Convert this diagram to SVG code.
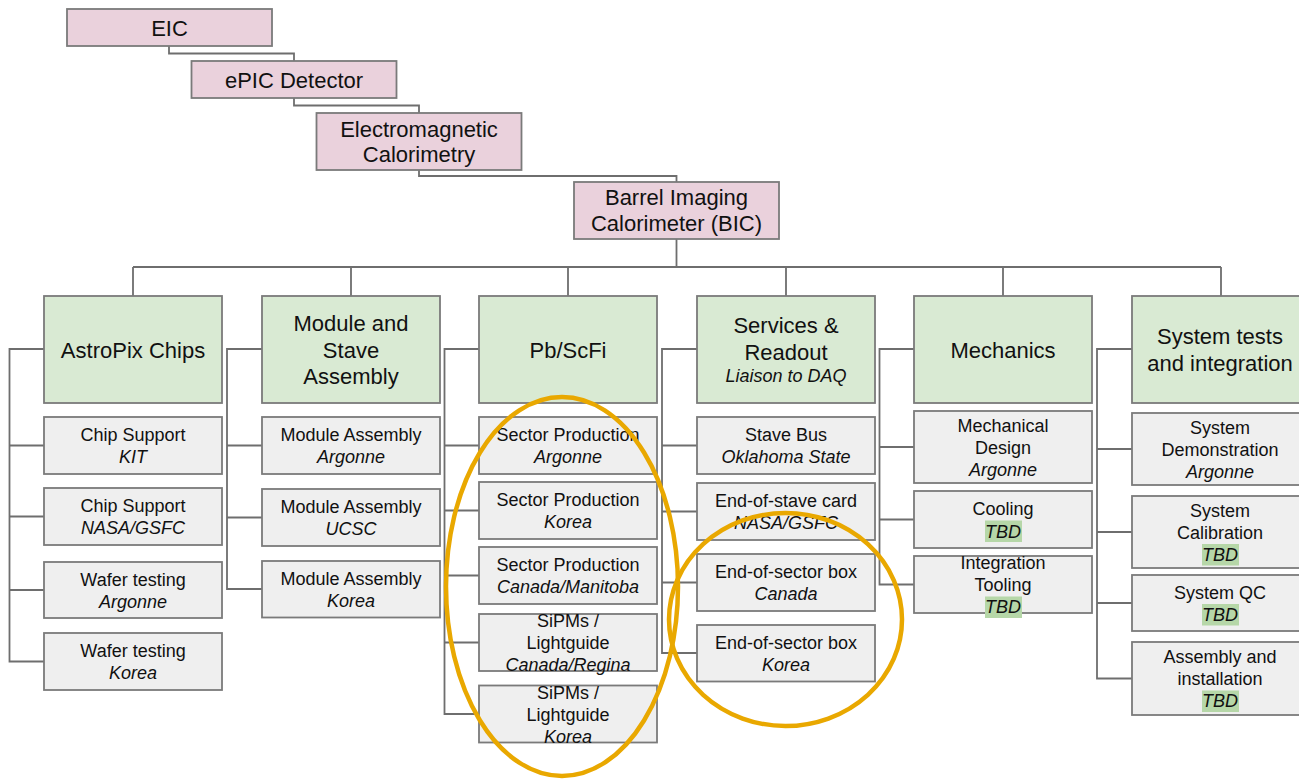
<svg xmlns="http://www.w3.org/2000/svg" width="1299" height="779" viewBox="0 0 1299 779">
<style>
text{font-family:"Liberation Sans",Arial,sans-serif;fill:#111;text-anchor:middle}
.pk{fill:#EAD1DC;stroke:#7a7a7a;stroke-width:1.8}
.gr{fill:#D9EAD3;stroke:#7a7a7a;stroke-width:1.8}
.sb{fill:#EFEFEF;stroke:#7a7a7a;stroke-width:1.8}
.t22{font-size:22px}
.t18{font-size:18px}
.i{font-style:italic}
.hl{fill:#B6D7A8}
.cn{fill:none;stroke:#6e6e6e;stroke-width:1.8}
.ov{fill:none;stroke:#E9A800;stroke-width:4.5}
</style>
<rect width="1299" height="779" fill="#fff"/>
<g id="connectors">
<path class="cn" d="M169,46V53.5H294V61M294,98V105.5H419V113M419,170V176H676.5V182M676.5,239V267M133,267H1221M133,267V296M351,267V296M568,267V296M786,267V296M1003,267V296M1221,267V296"/>
<path class="cn" d="M44,349H9.5V661.5H44M9.5,445.5H44M9.5,516.5H44M9.5,590H44"/>
<path class="cn" d="M262,349H227V589H262M227,445.5H262M227,517.5H262"/>
<path class="cn" d="M479,349H444.5V714H479M444.5,445.5H479M444.5,510.5H479M444.5,575.5H479M444.5,642.5H479"/>
<path class="cn" d="M697,349H662V653H697M662,445.5H697M662,511.5H697M662,582.5H697"/>
<path class="cn" d="M914,349H879.5V584.5H914M879.5,447H914M879.5,519.5H914"/>
<path class="cn" d="M1132,349H1097V678.5H1132M1097,449H1132M1097,532H1132M1097,603H1132"/>
</g>
<g id="eic"><rect class="pk" x="67" y="9" width="205" height="37"/><text class="t22" x="169.5" y="35.5">EIC</text></g>
<g id="epic"><rect class="pk" x="191.5" y="61" width="205" height="37"/><text class="t22" x="294" y="87.5">ePIC Detector</text></g>
<g id="emcal"><rect class="pk" x="316.5" y="113" width="205" height="57"/><text class="t22" x="419" y="136.5">Electromagnetic</text><text class="t22" x="419" y="162">Calorimetry</text></g>
<g id="bic"><rect class="pk" x="574" y="182" width="205" height="57"/><text class="t22" x="676.5" y="205">Barrel Imaging</text><text class="t22" x="676.5" y="231">Calorimeter (BIC)</text></g>

<g id="astropix"><rect class="gr" x="44" y="296" width="178" height="107"/><text class="t22" x="133" y="357.5">AstroPix Chips</text></g>
<g id="module-stave"><rect class="gr" x="262" y="296" width="178" height="107"/><text class="t22" x="351" y="331">Module and</text><text class="t22" x="351" y="357.5">Stave</text><text class="t22" x="351" y="384">Assembly</text></g>
<g id="pbscfi"><rect class="gr" x="479" y="296" width="178" height="107"/><text class="t22" x="568" y="357.5">Pb/ScFi</text></g>
<g id="services"><rect class="gr" x="697" y="296" width="178" height="107"/><text class="t22" x="786" y="333">Services &amp;</text><text class="t22" x="786" y="359.5">Readout</text><text class="t18 i" x="786" y="382">Liaison to DAQ</text></g>
<g id="mechanics"><rect class="gr" x="914" y="296" width="178" height="107"/><text class="t22" x="1003" y="357.5">Mechanics</text></g>
<g id="system-tests"><rect class="gr" x="1132" y="296" width="178" height="107"/><text class="t22" x="1220" y="344">System tests</text><text class="t22" x="1220" y="370.5">and integration</text></g>

<g id="chip-kit"><rect class="sb" x="44" y="417" width="178" height="57"/><text class="t18" x="133" y="441">Chip Support</text><text class="t18 i" x="133" y="463">KIT</text></g>
<g id="chip-nasa"><rect class="sb" x="44" y="488" width="178" height="57"/><text class="t18" x="133" y="512">Chip Support</text><text class="t18 i" x="133" y="534">NASA/GSFC</text></g>
<g id="wafer-argonne"><rect class="sb" x="44" y="562" width="178" height="56"/><text class="t18" x="133" y="585.5">Wafer testing</text><text class="t18 i" x="133" y="607.5">Argonne</text></g>
<g id="wafer-korea"><rect class="sb" x="44" y="633" width="178" height="57"/><text class="t18" x="133" y="657">Wafer testing</text><text class="t18 i" x="133" y="679">Korea</text></g>

<g id="mod-argonne"><rect class="sb" x="262" y="417" width="178" height="57"/><text class="t18" x="351" y="441">Module Assembly</text><text class="t18 i" x="351" y="463">Argonne</text></g>
<g id="mod-ucsc"><rect class="sb" x="262" y="489" width="178" height="57"/><text class="t18" x="351" y="513">Module Assembly</text><text class="t18 i" x="351" y="535">UCSC</text></g>
<g id="mod-korea"><rect class="sb" x="262" y="561" width="178" height="56.5"/><text class="t18" x="351" y="584.5">Module Assembly</text><text class="t18 i" x="351" y="606.5">Korea</text></g>

<g id="sector-argonne"><rect class="sb" x="479" y="417" width="178" height="57"/><text class="t18" x="568" y="441">Sector Production</text><text class="t18 i" x="568" y="463">Argonne</text></g>
<g id="sector-korea"><rect class="sb" x="479" y="482" width="178" height="57"/><text class="t18" x="568" y="506">Sector Production</text><text class="t18 i" x="568" y="528">Korea</text></g>
<g id="sector-manitoba"><rect class="sb" x="479" y="547" width="178" height="57"/><text class="t18" x="568" y="571">Sector Production</text><text class="t18 i" x="568" y="593">Canada/Manitoba</text></g>
<g id="sipm-regina"><rect class="sb" x="479" y="614" width="178" height="57"/><text class="t18" x="568" y="627">SiPMs /</text><text class="t18" x="568" y="649">Lightguide</text><text class="t18 i" x="568" y="671">Canada/Regina</text></g>
<g id="sipm-korea"><rect class="sb" x="479" y="685.5" width="178" height="57"/><text class="t18" x="568" y="698.5">SiPMs /</text><text class="t18" x="568" y="720.5">Lightguide</text><text class="t18 i" x="568" y="742.5">Korea</text></g>

<g id="stave-bus"><rect class="sb" x="697" y="417" width="178" height="57"/><text class="t18" x="786" y="441">Stave Bus</text><text class="t18 i" x="786" y="463">Oklahoma State</text></g>
<g id="eos-card"><rect class="sb" x="697" y="483" width="178" height="57"/><text class="t18" x="786" y="507">End-of-stave card</text><text class="t18 i" x="786" y="529">NASA/GSFC</text></g>
<g id="eosb-canada"><rect class="sb" x="697" y="554" width="178" height="57"/><text class="t18" x="786" y="578">End-of-sector box</text><text class="t18 i" x="786" y="600">Canada</text></g>
<g id="eosb-korea"><rect class="sb" x="697" y="625" width="178" height="56.5"/><text class="t18" x="786" y="648.5">End-of-sector box</text><text class="t18 i" x="786" y="670.5">Korea</text></g>

<g id="mech-design"><rect class="sb" x="914" y="411" width="178" height="72"/><text class="t18" x="1003" y="431.5">Mechanical</text><text class="t18" x="1003" y="453.5">Design</text><text class="t18 i" x="1003" y="475.5">Argonne</text></g>
<g id="cooling"><rect class="sb" x="914" y="491" width="178" height="57"/><text class="t18" x="1003" y="515">Cooling</text><rect class="hl" x="985" y="520.5" width="37" height="21.5"/><text class="t18 i" x="1003" y="537.5">TBD</text></g>
<g id="integration-tooling"><rect class="sb" x="914" y="556" width="178" height="57"/><text class="t18" x="1003" y="569">Integration</text><text class="t18" x="1003" y="591">Tooling</text><rect class="hl" x="985" y="596.5" width="37" height="21.5"/><text class="t18 i" x="1003" y="613">TBD</text></g>

<g id="sys-demo"><rect class="sb" x="1132" y="413" width="178" height="72"/><text class="t18" x="1220" y="433.5">System</text><text class="t18" x="1220" y="455.5">Demonstration</text><text class="t18 i" x="1220" y="477.5">Argonne</text></g>
<g id="sys-cal"><rect class="sb" x="1132" y="496" width="178" height="72"/><text class="t18" x="1220" y="516.5">System</text><text class="t18" x="1220" y="538.5">Calibration</text><rect class="hl" x="1202" y="544" width="37" height="21.5"/><text class="t18 i" x="1220" y="560.5">TBD</text></g>
<g id="sys-qc"><rect class="sb" x="1132" y="575" width="178" height="56"/><text class="t18" x="1220" y="598.5">System QC</text><rect class="hl" x="1202" y="604" width="37" height="21.5"/><text class="t18 i" x="1220" y="620.5">TBD</text></g>
<g id="assembly-install"><rect class="sb" x="1132" y="642" width="178" height="73"/><text class="t18" x="1220" y="663">Assembly and</text><text class="t18" x="1220" y="685">installation</text><rect class="hl" x="1202" y="690.5" width="37" height="21.5"/><text class="t18 i" x="1220" y="707">TBD</text></g>

<g id="highlights">
<ellipse class="ov" cx="562" cy="586.5" rx="116" ry="189.5"/>
<ellipse class="ov" cx="785.5" cy="619.5" rx="116.5" ry="106.5"/>
</g>
</svg>
